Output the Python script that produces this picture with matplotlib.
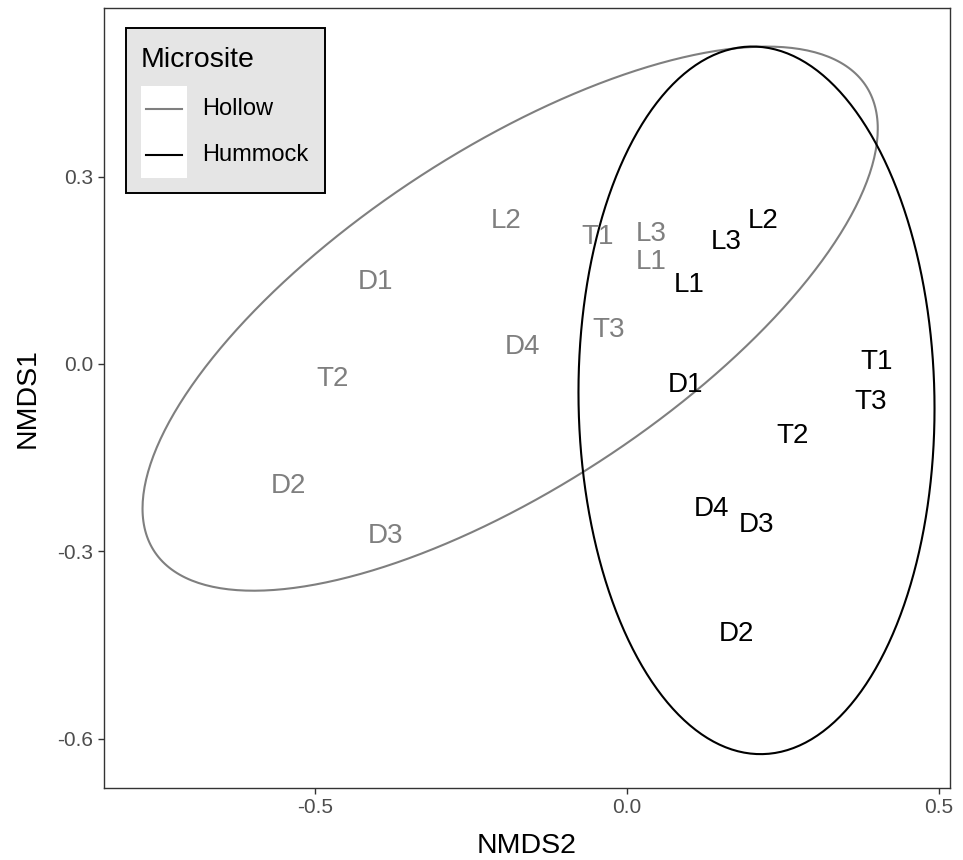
import numpy as np
import matplotlib.pyplot as plt
from matplotlib.patches import Rectangle
from matplotlib.lines import Line2D

plt.rcParams['font.family'] = ['Liberation Sans', 'DejaVu Sans']

# NMDS site scores (x = NMDS2, y = NMDS1)
hollow_labels = ["L2", "T1", "L3", "L1", "D1", "T3", "D4", "T2", "D2", "D3"]
hollow_x = [-0.194, -0.048, 0.039, 0.039, -0.404, -0.029, -0.167, -0.472, -0.543, -0.388]
hollow_y = [0.229, 0.204, 0.208, 0.163, 0.131, 0.054, 0.027, -0.024, -0.196, -0.276]

hummock_labels = ["L2", "L3", "L1", "T1", "T3", "D1", "T2", "D4", "D3", "D2"]
hummock_x = [0.218, 0.159, 0.100, 0.401, 0.390, 0.093, 0.266, 0.136, 0.207, 0.175]
hummock_y = [0.229, 0.196, 0.127, 0.003, -0.061, -0.034, -0.115, -0.232, -0.258, -0.433]

groups = ["Hollow", "Hummock"]
colors = {"Hollow": "#7F7F7F", "Hummock": "#000000"}


def cov_trob(xy, nu=5, maxit=25, tol=0.01):
    # robust multivariate t estimate of location and scatter
    n, p = xy.shape
    wt = np.ones(n)
    loc = xy.mean(axis=0)
    w = np.sqrt(wt)
    for _ in range(maxit):
        w0 = w
        X = xy - loc
        _, d, vt = np.linalg.svd(np.sqrt(w / w.sum())[:, None] * X, full_matrices=False)
        wX = X @ vt.T @ np.diag(1 / d)
        Q = (wX ** 2).sum(axis=1)
        w = wt * (nu + p) / (nu + Q)
        loc = (w[:, None] * xy).sum(axis=0) / w.sum()
        if np.all(np.abs(w - w0) < tol):
            break
    cov = (np.sqrt(w)[:, None] * X).T @ (np.sqrt(w)[:, None] * X) / wt.sum()
    return loc, cov


def ellipse_path(x, y, level=0.95, segments=360):
    xy = np.column_stack([x, y])
    center, shape = cov_trob(xy)
    dfd = len(x) - 1
    # F(2, dfd) quantile has a closed form
    fq = dfd / 2 * ((1 - level) ** (-2 / dfd) - 1)
    radius = np.sqrt(2 * fq)
    ang = np.linspace(0, 2 * np.pi, segments + 1)
    circle = np.column_stack([np.cos(ang), np.sin(ang)])
    L = np.linalg.cholesky(shape)
    pts = center + radius * circle @ L.T
    return pts[:, 0], pts[:, 1]


fig = plt.figure(figsize=(9.63, 8.6), dpi=100)
ax = fig.add_axes([104 / 963, 72 / 860, 846 / 963, 780 / 860])

data = {
    "Hollow": (hollow_labels, hollow_x, hollow_y),
    "Hummock": (hummock_labels, hummock_x, hummock_y),
}
for g in groups:
    labs, xs, ys = data[g]
    ex, ey = ellipse_path(xs, ys)
    ax.plot(ex, ey, color=colors[g], lw=1.5, solid_capstyle="butt")
    for lab, xv, yv in zip(labs, xs, ys):
        ax.text(xv, yv, lab, color=colors[g], fontsize=20, ha="center", va="center")

ax.set_xlim(-0.839, 0.518)
ax.set_ylim(-0.679, 0.570)
ax.set_xticks([-0.5, 0.0, 0.5])
ax.set_xticklabels(["-0.5", "0.0", "0.5"])
ax.set_yticks([-0.6, -0.3, 0.0, 0.3])
ax.set_yticklabels(["-0.6", "-0.3", "0.0", "0.3"])
ax.tick_params(length=4, width=1, color="#333333", labelcolor="#4D4D4D", labelsize=15)
for s in ax.spines.values():
    s.set_color("#333333")
    s.set_linewidth(1)
ax.set_xlabel("NMDS2", fontsize=20.5, labelpad=11)
ax.set_ylabel("NMDS1", fontsize=20.5, labelpad=12)


# legend drawn in figure pixel coordinates
def fx(px):
    return px / 963


def fy(py):
    return 1 - py / 860


fig.patches.append(Rectangle((fx(126), fy(193)), fx(325) - fx(126), fy(28) - fy(193),
                             transform=fig.transFigure, facecolor="#E5E5E5",
                             edgecolor="black", lw=1.4, zorder=5))
fig.patches.append(Rectangle((fx(141), fy(178)), fx(187) - fx(141), fy(86) - fy(178),
                             transform=fig.transFigure, facecolor="white",
                             edgecolor="none", zorder=6))
fig.text(fx(141), fy(60), "Microsite", fontsize=20.5, ha="left", va="center", zorder=7)
for g, py in zip(groups, [109, 155]):
    fig.lines.append(Line2D([fx(146), fx(182)], [fy(py), fy(py)], transform=fig.transFigure,
                            color=colors[g], lw=1.5, zorder=7))
    fig.text(fx(202), fy(py), g, fontsize=17, ha="left", va="center", zorder=7)

fig.savefig("out.png", dpi=100)
